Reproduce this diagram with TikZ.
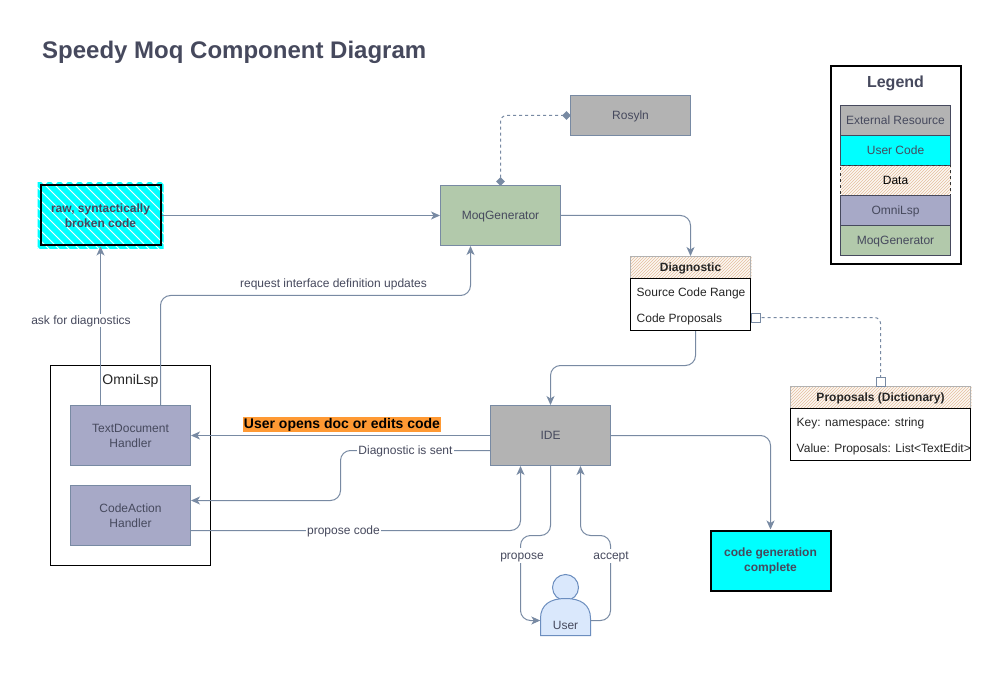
\documentclass[tikz,border=0pt]{standalone}
\usepackage{fontspec}
\setmainfont{Liberation Sans}
\usetikzlibrary{arrows.meta,shapes.geometric,calc}
\definecolor{edgecol}{HTML}{788AA3}
\definecolor{txtcol}{HTML}{46495D}
\definecolor{extgrey}{HTML}{B3B3B3}
\definecolor{lspcol}{HTML}{A7A9C7}
\definecolor{gencol}{HTML}{B2C9AB}
\definecolor{hatchcol}{HTML}{E8C8AC}
\definecolor{orangecol}{HTML}{FF9933}
\definecolor{usercol}{HTML}{DAE8FC}
\definecolor{userline}{HTML}{6C8EBF}
\definecolor{purecyan}{RGB}{0,255,255}
\newcommand{\hatchslash}[4]{%
 \begin{scope}\clip (#1,#2) rectangle (#3,#4);
 \foreach \i in {-200,-197,...,200}{\draw[hatchcol,line width=1pt] ($(#1,#4)+(\i,0)$) -- ++(60,-60);}
 \end{scope}}
\newcommand{\hatchcyan}[4]{%
 \begin{scope}\clip (#1,#2) rectangle (#3,#4);
 \foreach \i in {-100,-90,...,160}{\draw[purecyan,line width=5.8pt] ($(#1,#2)+(\i,0)$) -- ++(80,80);}
 \end{scope}}
\tikzset{
 x=1pt,y=-1pt,
 every node/.style={font=\fontsize{12}{15}\selectfont,text=txtcol,align=center,inner sep=0pt},
 oneline/.style={text height=10pt,text depth=2.25pt},
 box/.style={draw=edgecol,line width=1pt,minimum width=120pt,minimum height=60pt},
 extbox/.style={box,fill=extgrey},
 genbox/.style={box,fill=gencol},
 lspbox/.style={box,fill=lspcol},
 codebox/.style={draw=black,line width=2pt,minimum width=120pt,minimum height=60pt,font=\fontsize{12}{15}\selectfont\bfseries},
 legrow/.style={draw=txtcol,line width=1pt,minimum width=110pt,minimum height=30pt,oneline},
 conn/.style={draw=edgecol,line width=1pt,rounded corners=10pt,-{Stealth[length=9pt,width=8pt,inset=2.5pt]}},
 dashconn/.style={draw=edgecol,line width=1pt,rounded corners=6pt,dash pattern=on 3pt off 3pt},
 lbl/.style={fill=white,oneline},
 tblhead/.style={font=\fontsize{12}{15}\selectfont\bfseries,text=black!85,oneline},
 tblrow/.style={anchor=west,text=black!85,oneline},
 endsq/.style={draw=edgecol,fill=white,line width=1pt,minimum width=9pt,minimum height=9pt},
 enddia/.style={diamond,fill=edgecol,minimum width=9pt,minimum height=9pt},
}
\begin{document}
\begin{tikzpicture}
\useasboundingbox (0,0) rectangle (1000,700);
\fill[white] (0,0) rectangle (1000,700);
\begin{scope}[shift={(0.5,0.5)}]
\node[anchor=west,font=\fontsize{24}{28}\selectfont\bfseries] (title) at (41.5,52) {Speedy Moq Component Diagram};

% legend
\node[draw=black,line width=2pt,minimum width=130pt,minimum height=198pt] (legend) at (895.5,165) {};
\node[font=\fontsize{16}{20}\selectfont\bfseries] (legendtitle) at (895,82.5) {Legend};
\hatchslash{840}{165}{950}{195}
\node[legrow,fill=extgrey] (l1) at (895,120) {External Resource};
\node[legrow,fill=purecyan] (l2) at (895,150) {User Code};
\node[legrow,text=black,dashed,draw=black!80,line width=.8pt] (l3) at (895,180) {Data};
\node[legrow,fill=lspcol] (l4) at (895,210) {OmniLsp};
\node[legrow,fill=gencol] (l5) at (895,240) {MoqGenerator};

% hatched backgrounds
\hatchcyan{37}{182}{163}{248}
\hatchslash{630}{256}{751}{278}
\hatchslash{790}{386}{971}{408}

% nodes
\node[extbox,minimum height=40pt,oneline] (roslyn) at (630,115) {Rosyln};
\node[genbox,oneline] (moq) at (500,215) {MoqGenerator};
\node[codebox] (raw) at (100,215) {raw, syntactically\\broken code};
\node[draw=gray!60,line width=1pt,minimum width=120pt,minimum height=74pt] (diag) at (690,293) {};
\draw[black,line width=1pt] (630,278) -- (750,278) -- (750,330) -- (630,330) -- cycle;
\node[tblhead] (diaghead) at (690,267.5) {Diagnostic};
\node[tblrow] (diag1) at (636,292) {Source Code Range};
\node[tblrow] (diag2) at (636,318) {Code Proposals};
\node[draw=gray!60,line width=1pt,minimum width=180pt,minimum height=74pt] (prop) at (880,423) {};
\draw[black,line width=1pt] (790,408) -- (970,408) -- (970,460) -- (790,460) -- cycle;
\node[tblhead] (prophead) at (880,397.5) {Proposals (Dictionary)};
\node[tblrow] (prop1) at (796,422) {Key: namespace: string};
\node[tblrow] (prop2) at (796,448) {Value: Proposals: List<TextEdit>};
\node[draw=black,line width=1pt,minimum width=160pt,minimum height=200pt] (omni) at (130,465) {};
\node[font=\fontsize{14}{16}\selectfont,text=black!85] (omnilabel) at (130,380) {OmniLsp};
\node[lspbox] (textdoc) at (130,435) {TextDocument\\Handler};
\node[lspbox] (codeact) at (130,515) {CodeAction\\Handler};
\node[extbox] (ide) at (550,435) {IDE};
\node[codebox,fill=purecyan] (done) at (770,560) {code generation\\complete};

% user
\draw[userline,fill=usercol,line width=1pt] (565,587) circle (13);
\draw[userline,fill=usercol,line width=1pt] (540,635) -- (540,618) .. controls (540,604) and (550,598) .. (565,598) .. controls (580,598) and (590,604) .. (590,618) -- (590,635) -- cycle;
\node[minimum width=50pt,minimum height=30pt] (user) at (565,620) {};
\node[oneline] (userlabel) at (565,625.5) {User};

% connectors
\path[conn] (raw) -- (moq);
\path[conn] (moq.east) -| (diag.north);
\path[dashconn] (roslyn.west) -| (moq.north);
\node[enddia] (dia1) at (566,115) {};
\node[enddia] (dia2) at (500,181) {};
\path[conn] ([xshift=-30pt]textdoc.north) -- (raw.south);
\path[conn] ([xshift=30pt]textdoc.north) -- (160,295) -- (470,295) -- ([xshift=-30pt]moq.south);
\path[conn] ([xshift=5pt]diag.south) -- (695,365) -- (550,365) -- (ide.north);
\path[dashconn] (755,317) -| (prop.north);
\node[endsq] (sq1) at (755,317) {};
\node[endsq] (sq2) at (880,381.5) {};
\path[conn] (ide.west) -- (textdoc.east);
\path[conn] ([yshift=-15pt]ide.west) -- (340,450) -- (340,500) -- ([yshift=15pt]codeact.east);
\path[conn] ([yshift=-15pt]codeact.east) -- (520,530) -- ([xshift=-30pt]ide.south);
\path[conn] (ide.south) -- (550,535) -- (520,535) -- (520,620) -- (user.west);
\path[conn] (user.east) -- (610,620) -- (610,535) -- (580,535) -- ([xshift=30pt]ide.south);
\path[conn] (ide.east) -| (done.north);

% labels
\node[lbl] (l-ask) at (80.5,320) {ask for diagnostics};
\node[oneline] (l-req) at (333,283) {request interface definition updates};
\node[fill=orangecol,text=black,font=\fontsize{14}{16}\selectfont\bfseries,inner xsep=.5pt,inner ysep=1pt,text height=10.5pt,text depth=3pt] (l-open) at (341.5,424) {User opens doc or edits code};
\node[lbl,inner xsep=1pt] (l-sent) at (405,450) {Diagnostic is sent};
\node[lbl,inner xsep=1pt] (l-pc) at (343,530) {propose code};
\node[lbl,inner ysep=1pt] (l-prop) at (521.5,555) {propose};
\node[lbl,inner ysep=1pt] (l-acc) at (610.5,555.5) {accept};
\end{scope}
\end{tikzpicture}
\end{document}
